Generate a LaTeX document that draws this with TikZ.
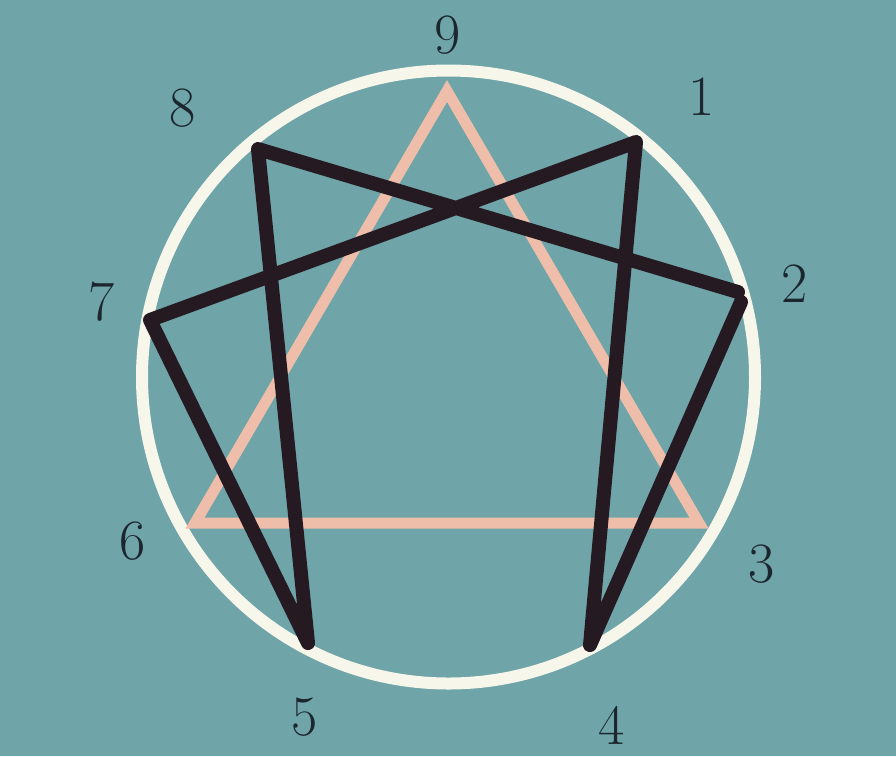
\documentclass[tikz,border=0pt]{standalone}
\usepackage{fontspec}
\definecolor{bgteal}{RGB}{111,164,168}
\definecolor{ringcream}{RGB}{246,246,234}
\definecolor{triadpink}{RGB}{238,190,170}
\definecolor{hexaddark}{RGB}{38,26,34}
\definecolor{digitink}{RGB}{28,38,46}
\tikzset{
  ring/.style={draw=ringcream, line width=12pt},
  triad/.style={draw=triadpink, line width=11pt, miter limit=10},
  hexad/.style={draw=hexaddark, line width=14pt, line cap=round, line join=round},
  digit/.style={text=digitink, inner sep=0pt, font=\fontsize{57}{60}\selectfont}
}
\begin{document}
\begin{tikzpicture}[x=1pt,y=-1pt]

      \fill[bgteal] (0,0) rectangle (896,756);
      \useasboundingbox (0,0) rectangle (896,756);

      \coordinate (c) at (448.5,377);
      \draw[ring] (c) circle[radius=306.5pt];

      % points on the circle
      \coordinate (9) at (447,91);
      \coordinate (3) at (699,523);
      \coordinate (6) at (195,523);
      \coordinate (1) at (636,142);
      \coordinate (2) at (738,292);
      \coordinate (2b) at (741,302);
      \coordinate (4) at (590,645);
      \coordinate (5) at (308,643);
      \coordinate (7) at (150,320);
      \coordinate (8) at (258,149);

      \draw[triad] (9) -- (3) -- (6) -- cycle;
      \draw[hexad] (2b) -- (4) -- (1) -- (7) -- (5) -- (8) -- (2);

      \begin{scope}[every node/.style={digit}]
        \node (l9) at (448,35)  {9};
        \node (l1) at (702,97)  {1};
        \node (l2) at (795,284) {2};
        \node (l3) at (762,564) {3};
        \node (l4) at (612,725) {4};
        \node (l5) at (305,717) {5};
        \node (l6) at (133,541) {6};
        \node (l7) at (102,302) {7};
        \node (l8) at (183,108) {8};
      \end{scope}

    \end{tikzpicture}
\end{document}
